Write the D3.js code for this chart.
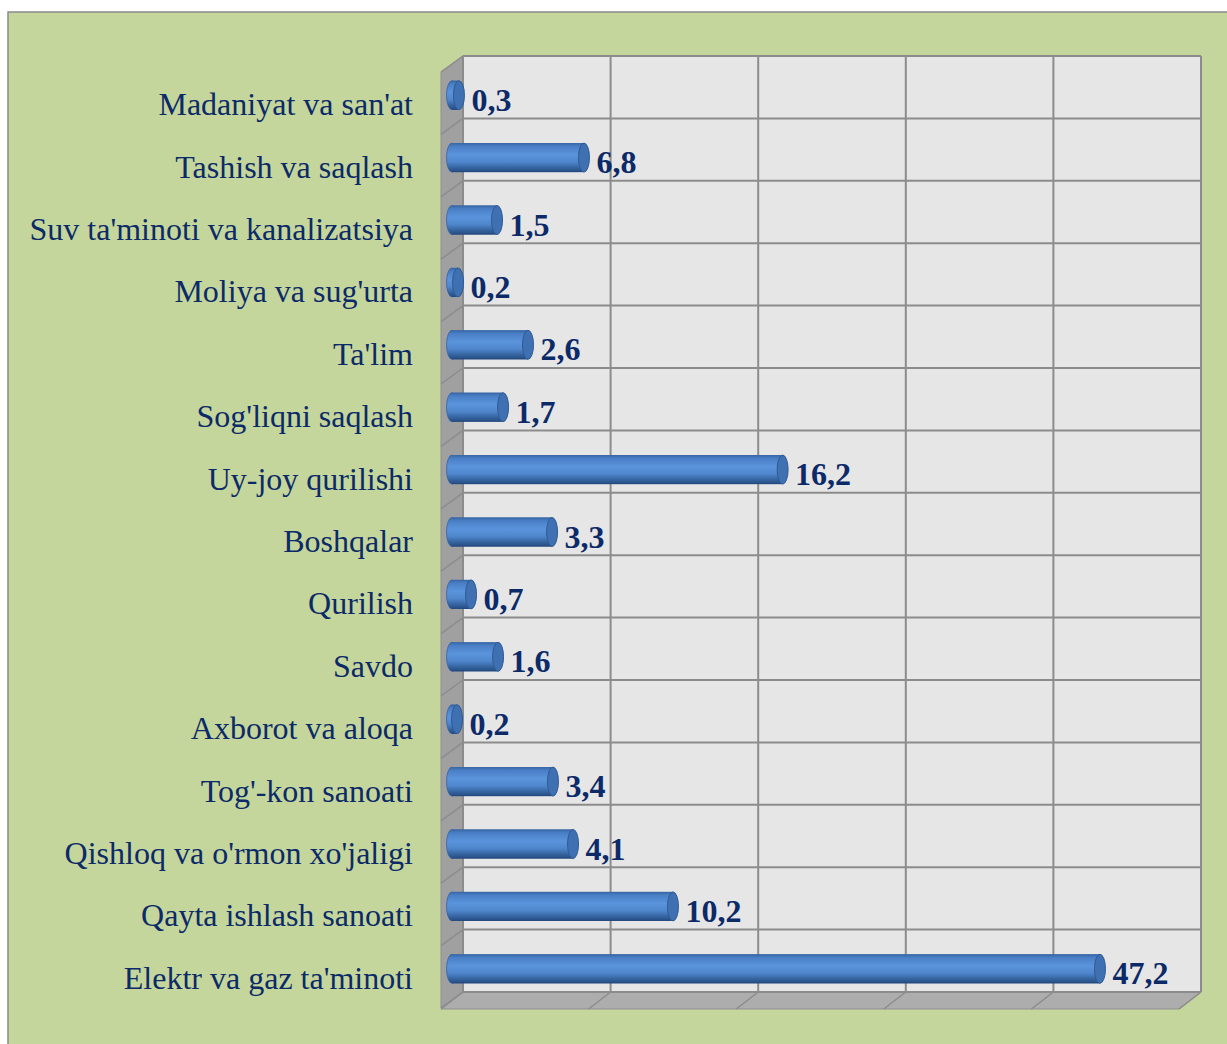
<!DOCTYPE html>
<html>
<head>
<meta charset="utf-8">
<script src="https://cdn.jsdelivr.net/npm/d3@7"></script>
<style>
  body { margin: 0; background: #fff; }
  svg { display: block; }
</style>
</head>
<body>
<svg id="canvas" width="1227" height="1044"></svg>
<script>
// categories, top to bottom
var categories = [
  "Madaniyat va san'at", "Tashish va saqlash", "Suv ta'minoti va kanalizatsiya",
  "Moliya va sug'urta", "Ta'lim", "Sog'liqni saqlash", "Uy-joy qurilishi",
  "Boshqalar", "Qurilish", "Savdo", "Axborot va aloqa", "Tog'-kon sanoati",
  "Qishloq va o'rmon xo'jaligi", "Qayta ishlash sanoati", "Elektr va gaz ta'minoti"
];
// values shown as labels
var shares = [0.3, 6.8, 1.5, 0.2, 2.6, 1.7, 16.2, 3.3, 0.7, 1.6, 0.2, 3.4, 4.1, 10.2, 47.2];
// bar lengths as drawn
var barValues = [0.47, 8.94, 3.05, 0.41, 5.15, 3.46, 22.4, 6.78, 1.29, 3.12, 0.34, 6.84, 8.2, 14.97, 43.9];
var gridTicks = [0, 10, 20, 30, 40, 50];

var svg = d3.select('svg#canvas');

// depth offset of the 3d box
var depthX = -22, depthY = 16;
var fontFam = "'Times New Roman', 'Liberation Serif', serif";

var x = d3.scaleLinear().domain([0, 50]).range([463, 1201]);
var y = d3.scaleBand().domain(categories).range([56, 992]).paddingInner(0).paddingOuter(0);

var x0 = x.range()[0], x1 = x.range()[1];
var y0 = y.range()[0], y1 = y.range()[1];

// chart area
svg.append('rect')
  .attr('x', 8).attr('y', 12)
  .attr('width', 1260).attr('height', 1060)
  .attr('fill', '#c4d69b')
  .attr('stroke', '#8a8a8a')
  .attr('stroke-width', 1.5);

var defs = svg.append('defs');
var grad = defs.append('linearGradient')
  .attr('id', 'cyl')
  .attr('x1', 0).attr('y1', 0).attr('x2', 0).attr('y2', 1);
[[0, '#3a68a8'], [0.12, '#4a7fc6'], [0.4, '#5b94dc'], [0.65, '#4f86cc'], [0.85, '#35639f'], [1, '#264c82']]
  .forEach(function(s) {
    grad.append('stop').attr('offset', s[0]).attr('stop-color', s[1]);
  });

// back wall
svg.append('rect')
  .attr('x', x0).attr('y', y0)
  .attr('width', x1 - x0).attr('height', y1 - y0)
  .attr('fill', '#e6e6e6');

// left wall
svg.append('polygon')
  .attr('points', [[x0, y0], [x0, y1], [x0 + depthX, y1 + depthY], [x0 + depthX, y0 + depthY]].join(' '))
  .attr('fill', '#a0a0a0')
  .attr('stroke', '#8f8f8f')
  .attr('stroke-width', 1);

// floor
svg.append('polygon')
  .attr('points', [[x0, y1], [x1, y1], [x1 + depthX, y1 + depthY + 1], [x0 + depthX, y1 + depthY + 1]].join(' '))
  .attr('fill', '#adadad')
  .attr('stroke', '#8f8f8f')
  .attr('stroke-width', 1);

var grid = svg.append('g').attr('stroke', '#8c8c8c').attr('stroke-width', 2).attr('fill', 'none');

// vertical gridlines + floor ticks
gridTicks.forEach(function(t) {
  grid.append('line')
    .attr('x1', x(t)).attr('x2', x(t))
    .attr('y1', y0).attr('y2', y1);
  grid.append('line')
    .attr('x1', x(t)).attr('y1', y1)
    .attr('x2', x(t) + depthX).attr('y2', y1 + depthY + 1)
    .attr('stroke-width', 1.5);
});

// horizontal gridlines on back wall and left wall
var rowEdges = categories.map(function(c) { return y(c); }).concat([y1]);
rowEdges.forEach(function(yy) {
  grid.append('line')
    .attr('x1', x0).attr('x2', x1)
    .attr('y1', yy).attr('y2', yy);
  grid.append('line')
    .attr('x1', x0).attr('y1', yy)
    .attr('x2', x0 + depthX).attr('y2', yy + depthY)
    .attr('stroke-width', 1.5);
});

// bars sit at mid depth
var midX = depthX / 2, midY = depthY / 2;
var radius = 14.5, capRx = 5.5;

var bars = svg.append('g').selectAll('g.bar')
  .data(categories)
  .enter().append('g')
  .attr('class', 'bar');

bars.each(function(c, i) {
  var g = d3.select(this);
  var cy = y(c) + y.bandwidth() / 2 + midY;
  var xs = x(0) + midX;
  var xe = x(barValues[i]) + midX;

  g.append('ellipse')
    .attr('cx', xs).attr('cy', cy)
    .attr('rx', capRx).attr('ry', radius)
    .attr('fill', 'url(#cyl)')
    .attr('stroke', '#3563a0').attr('stroke-width', 0.8);
  g.append('rect')
    .attr('x', xs).attr('y', cy - radius)
    .attr('width', xe - xs).attr('height', radius * 2)
    .attr('fill', 'url(#cyl)');
  g.append('line')
    .attr('x1', xs).attr('x2', xe)
    .attr('y1', cy - radius + 0.5).attr('y2', cy - radius + 0.5)
    .attr('stroke', '#3a68a8').attr('stroke-width', 1);
  g.append('line')
    .attr('x1', xs).attr('x2', xe)
    .attr('y1', cy + radius - 0.5).attr('y2', cy + radius - 0.5)
    .attr('stroke', '#244a80').attr('stroke-width', 1);
  g.append('ellipse')
    .attr('cx', xe).attr('cy', cy)
    .attr('rx', capRx).attr('ry', radius)
    .attr('fill', '#3f70b2')
    .attr('stroke', '#2f5b96').attr('stroke-width', 1);

  // value label
  g.append('text')
    .attr('x', xe + capRx + 7)
    .attr('y', cy + 15.5)
    .attr('font-family', fontFam)
    .attr('font-weight', 'bold')
    .attr('font-size', '32px')
    .attr('fill', '#0c2a68')
    .text(String(shares[i]).replace('.', ','));
});

// category labels
svg.append('g').selectAll('text.cat')
  .data(categories)
  .enter().append('text')
  .attr('class', 'cat')
  .attr('x', 413)
  .attr('y', function(c) { return y(c) + y.bandwidth() / 2 + midY + 20; })
  .attr('text-anchor', 'end')
  .attr('font-family', fontFam)
  .attr('font-size', '32px')
  .attr('fill', '#0c2a68')
  .text(function(c) { return c; });
</script>
</body>
</html>
